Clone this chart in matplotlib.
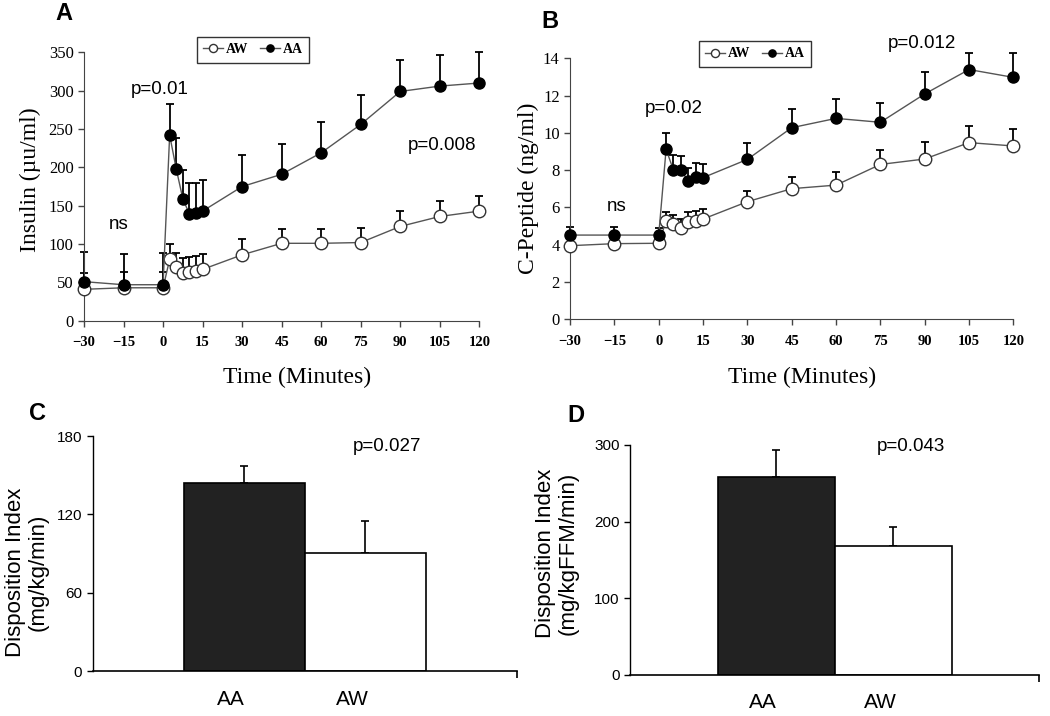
import numpy as np
import matplotlib
matplotlib.use("Agg")
import matplotlib.pyplot as plt

# time points (minutes)
time = [-30, -15, 0, 2.5, 5, 7.5, 10, 12.5, 15, 30, 45, 60, 75, 90, 105, 120]

# panel A: insulin (uU/ml)
ins_aa = [51, 47, 47, 242, 198, 159, 139, 141, 143, 175, 191, 219, 256, 299, 306, 310]
ins_aa_top = [90, 87, 88, 282, 238, 197, 179, 180, 183, 216, 230, 259, 295, 340, 347, 351]
ins_aw = [41, 43, 43, 80, 70, 62, 64, 65, 67, 86, 101, 101, 102, 123, 136, 143]
ins_aw_top = [62, 64, 64, 100, 88, 82, 83, 84, 87, 106, 120, 120, 121, 143, 156, 163]

# panel B: C-peptide (ng/ml)
cp_aa = [4.52, 4.52, 4.52, 9.12, 8.0, 8.0, 7.42, 7.65, 7.6, 8.58, 10.28, 10.78, 10.57, 12.09, 13.4, 12.98]
cp_aa_top = [4.97, 4.93, 4.9, 9.98, 8.8, 8.76, 8.13, 8.37, 8.33, 9.44, 11.28, 11.84, 11.62, 13.28, 14.3, 14.27]
cp_aw = [3.95, 4.06, 4.08, 5.27, 5.11, 4.88, 5.24, 5.29, 5.38, 6.31, 7.01, 7.2, 8.31, 8.6, 9.48, 9.3]
cp_aw_top = [3.95, 4.06, 4.08, 5.78, 5.6, 5.36, 5.74, 5.83, 5.92, 6.9, 7.65, 7.92, 9.08, 9.49, 10.39, 10.19]

# panels C and D: disposition index
groups = ["AA", "AW"]
di_kg = [144, 90.5]
di_kg_err = [13, 24.5]
di_ffm = [258.5, 168.5]
di_ffm_err = [35, 25]

serif = "Liberation Serif"
sans = "Liberation Sans"

fig = plt.figure(figsize=(10.5, 7.16), dpi=100)


def time_panel(rect, aa, aa_top, aw, aw_top, ymax, ystep, ylabel, ylab_xy, xlab_xy, leg_anchor):
    ax = fig.add_axes(rect)
    aa = np.array(aa); aw = np.array(aw)
    ax.errorbar(time, aw, yerr=[np.zeros(len(aw)), np.array(aw_top) - aw], fmt="none",
                ecolor="black", elinewidth=1.3, capsize=3, capthick=1.3, zorder=1, clip_on=False)
    ax.errorbar(time, aa, yerr=[np.zeros(len(aa)), np.array(aa_top) - aa], fmt="none",
                ecolor="black", elinewidth=1.3, capsize=3, capthick=1.3, zorder=1, clip_on=False)
    ax.plot(time, aw, "-o", color="#555555", lw=1, ms=9, mfc="white", mec="#333333",
            mew=1, zorder=3, clip_on=False, label="AW")
    ax.plot(time, aa, "-o", color="#555555", lw=1, ms=8, mfc="black", mec="black",
            zorder=4, clip_on=False, label="AA")
    ax.set_xlim(-30, 120)
    ax.set_ylim(0, ymax)
    ax.set_xticks(np.arange(-30, 121, 15))
    ax.set_yticks(np.arange(0, ymax + 0.01, ystep))
    for s in ["top", "right"]:
        ax.spines[s].set_visible(False)
    ax.spines["left"].set_color("#444444")
    ax.spines["bottom"].set_color("#444444")
    ax.tick_params(direction="out", length=4, width=1, color="#444444")
    ax.tick_params(axis="x", pad=7)
    for lab in ax.get_xticklabels():
        lab.set_fontfamily(serif); lab.set_fontweight("bold"); lab.set_fontsize(10.5)
    for lab in ax.get_yticklabels():
        lab.set_fontfamily(serif); lab.set_fontsize(12)
    ax.set_ylabel(ylabel, fontfamily=serif, fontsize=17, va="center")
    ax.yaxis.set_label_coords(*ylab_xy)
    ax.set_xlabel("Time (Minutes)", fontfamily=serif, fontsize=17, va="center")
    ax.xaxis.set_label_coords(*xlab_xy)
    leg = ax.legend(loc="upper left", bbox_to_anchor=leg_anchor, ncol=2, frameon=True,
                    fancybox=False, edgecolor="black", borderaxespad=0, handlelength=1.4,
                    handletextpad=0.2, columnspacing=0.9, markerscale=0.65, borderpad=0.45,
                    prop={"family": serif, "weight": "bold", "size": 10})
    leg.get_frame().set_linewidth(1)
    return ax


axA = time_panel([0.08, 0.552, 0.3765, 0.3749], ins_aa, ins_aa_top, ins_aw, ins_aw_top,
                 350, 50, "Insulin (\u00b5u/ml)", (-0.135, 0.524), (0.539, -0.21), (0.286, 1.057))
axA.text(-16.7, 125, "ns", fontfamily=sans, fontsize=13.5, ha="center", va="center")
axA.text(-1.2, 301, "p=0.01", fontfamily=sans, fontsize=13.5, ha="center", va="center")
axA.text(105.7, 229, "p=0.008", fontfamily=sans, fontsize=13.5, ha="center", va="center")

axB = time_panel([0.5429, 0.554, 0.4222, 0.3645], cp_aa, cp_aa_top, cp_aw, cp_aw_top,
                 14, 2, "C-Peptide (ng/ml)", (-0.095, 0.503), (0.523, -0.221), (0.291, 1.066))
axB.text(-14.2, 6.04, "ns", fontfamily=sans, fontsize=13.5, ha="center", va="center")
axB.text(5, 11.32, "p=0.02", fontfamily=sans, fontsize=13.5, ha="center", va="center")
axB.text(89, 14.8, "p=0.012", fontfamily=sans, fontsize=13.5, ha="center", va="center",
         clip_on=False)


def bar_panel(rect, vals, errs, ymax, ystep, ylabel, ylab_xy, ptext, pxy, lab_pad):
    ax = fig.add_axes(rect)
    x = np.arange(len(groups))
    ax.bar(x, vals, width=1.0, color=["#222222", "white"], edgecolor="black", lw=1.2, zorder=2)
    ax.errorbar(x, vals, yerr=[np.zeros(len(vals)), errs], fmt="none", ecolor="black",
                elinewidth=1.2, capsize=3, capthick=1.2, zorder=1)
    ax.set_xlim(-1.25, 2.25)
    ax.set_ylim(0, ymax)
    ax.set_yticks(np.arange(0, ymax + 0.01, ystep))
    ax.set_xticks(x - 0.11)
    ax.set_xticklabels(groups, fontfamily=sans, fontsize=15)
    ax.set_xticks([2.25], minor=True)
    ax.tick_params(axis="x", which="major", length=0, pad=lab_pad)
    ax.tick_params(axis="x", which="minor", length=5, width=1.2, direction="out")
    ax.tick_params(axis="y", length=4, width=1, direction="out")
    for lab in ax.get_yticklabels():
        lab.set_fontfamily(sans); lab.set_fontsize(11)
    for s in ["top", "right"]:
        ax.spines[s].set_visible(False)
    ax.spines["left"].set_linewidth(1)
    ax.spines["bottom"].set_linewidth(1.2)
    ax.set_ylabel(ylabel, fontfamily=sans, fontsize=16, linespacing=1.1, va="center")
    ax.yaxis.set_label_coords(*ylab_xy)
    ax.text(pxy[0], pxy[1], ptext, fontfamily=sans, fontsize=13.5, ha="center", va="center")
    return ax


bar_panel([0.0883, 0.0628, 0.4038, 0.3282], di_kg, di_kg_err, 180, 60,
          "Disposition Index\n(mg/kg/min)", (-0.156, 0.42), "p=0.027", (1.18, 171.8), 14)
bar_panel([0.6, 0.0573, 0.3898, 0.3212], di_ffm, di_ffm_err, 300, 100,
          "Disposition Index\n(mg/kgFFM/min)", (-0.18, 0.53), "p=0.043", (1.15, 297.8), 13)

for letter, (px, py) in {"A": (64, 14), "B": (550, 21), "C": (37, 414), "D": (576, 415)}.items():
    fig.text(px / 1050, 1 - py / 716, letter, fontfamily=sans, fontweight="bold",
             fontsize=17, ha="center", va="center")

fig.savefig("out.png", dpi=100)
